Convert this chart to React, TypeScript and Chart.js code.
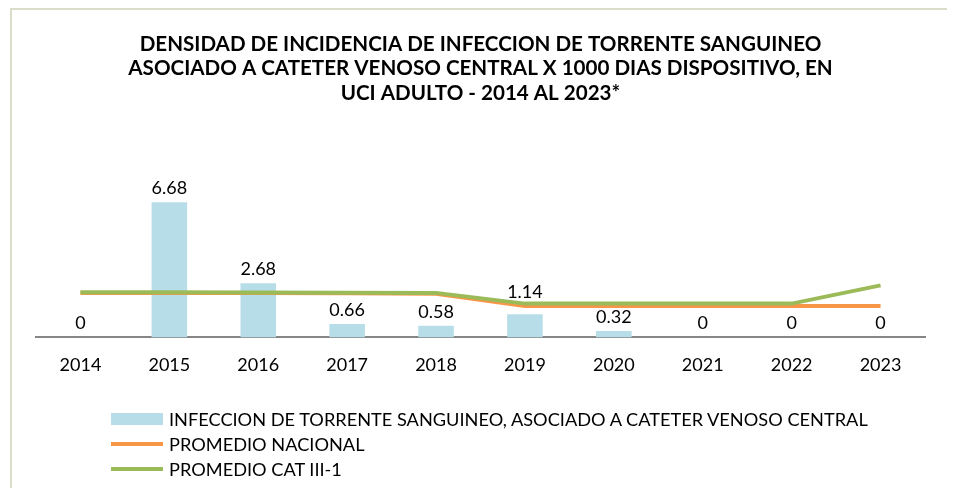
import React, { useEffect, useRef } from "react";
import { Chart, registerables } from "chart.js";

Chart.register(...registerables);

const titleLines = [
  "DENSIDAD DE INCIDENCIA DE INFECCION DE TORRENTE SANGUINEO",
  "ASOCIADO A CATETER VENOSO CENTRAL X 1000 DIAS DISPOSITIVO, EN",
  "UCI ADULTO - 2014 AL 2023*",
];
const years = ["2014", "2015", "2016", "2017", "2018", "2019", "2020", "2021", "2022", "2023"];
const infeccion = [0, 6.68, 2.68, 0.66, 0.58, 1.14, 0.32, 0, 0, 0];
const promedioNacional = [2.19, 2.19, 2.19, 2.18, 2.16, 1.55, 1.55, 1.55, 1.55, 1.55];
const promedioCat = [2.23, 2.23, 2.22, 2.21, 2.2, 1.67, 1.67, 1.67, 1.67, 2.57];
const seriesLabels = [
  "INFECCION DE TORRENTE SANGUINEO, ASOCIADO A CATETER VENOSO CENTRAL",
  "PROMEDIO NACIONAL",
  "PROMEDIO CAT III-1",
];
const seriesColors = ["#b7dde8", "#f79646", "#9bbb59"];

const FONT = "Lato, 'Open Sans', sans-serif";

const dataLabelPlugin = {
  id: "dataLabels",
  afterDatasetsDraw(chart: any) {
    const meta = chart.getDatasetMeta(0);
    const lineMetas = [chart.getDatasetMeta(1), chart.getDatasetMeta(2)];
    const ctx = chart.ctx;
    const fontSize = 18;
    const glyphHeight = 13;
    ctx.save();
    ctx.font = `${fontSize}px ${FONT}`;
    ctx.fillStyle = "#000";
    ctx.textAlign = "center";
    ctx.textBaseline = "alphabetic";
    meta.data.forEach((bar: any, i: number) => {
      const v = infeccion[i];
      let base = bar.y - 8;
      // keep label clear of the average lines
      for (let pass = 0; pass < 2; pass++) {
        lineMetas.forEach((lm: any) => {
          const p = lm.data[i];
          if (!p) return;
          const top = base - glyphHeight;
          if (p.y + 2 >= top && p.y - 2 <= base) {
            base = Math.min(base, p.y - 8);
          }
        });
      }
      ctx.fillText(String(v), bar.x, base);
    });
    ctx.restore();
  },
};

export default function App() {
  const ref = useRef<HTMLCanvasElement>(null);
  useEffect(() => {
    if (!ref.current) return;
    const chart = new Chart(ref.current, {
      type: "bar",
      data: {
        labels: years,
        datasets: [
          {
            type: "bar",
            label: seriesLabels[0],
            data: infeccion,
            backgroundColor: seriesColors[0],
            barPercentage: 0.4,
            categoryPercentage: 1,
            order: 3,
          },
          {
            type: "line",
            label: seriesLabels[1],
            data: promedioNacional,
            borderColor: seriesColors[1],
            backgroundColor: seriesColors[1],
            borderWidth: 4,
            pointRadius: 0,
            tension: 0,
            order: 2,
          },
          {
            type: "line",
            label: seriesLabels[2],
            data: promedioCat,
            borderColor: seriesColors[2],
            backgroundColor: seriesColors[2],
            borderWidth: 4,
            pointRadius: 0,
            tension: 0,
            order: 1,
          },
        ] as any,
      },
      options: {
        animation: false,
        responsive: false,
        maintainAspectRatio: false,
        layout: { padding: { left: 24, right: 26, top: 0, bottom: 95 } },
        plugins: {
          legend: { display: false },
          tooltip: { enabled: false },
          title: {
            display: true,
            text: titleLines,
            color: "#000",
            font: { family: FONT, size: 20.6, weight: "bold", lineHeight: 1.19 },
            padding: { top: 22, bottom: 70 },
          },
        },
        scales: {
          x: {
            offset: true,
            grid: { display: false, drawTicks: false },
            border: { display: true, color: "#868686", width: 2 },
            ticks: { color: "#000", font: { family: FONT, size: 18 }, padding: 17 },
          },
          y: {
            display: false,
            min: 0,
            max: 8,
          },
        },
      },
      plugins: [dataLabelPlugin],
    });
    return () => chart.destroy();
  }, []);

  return (
    <div
      style={{
        position: "relative",
        width: 943,
        height: 482,
        marginLeft: 2,
        border: "2px solid #dcdccb",
        background: "#fff",
      }}
    >
      <canvas ref={ref} width={939} height={478} style={{ position: "absolute", left: 0, top: 0 }} />
      <div style={{ position: "absolute", left: 99, top: 396, fontFamily: FONT, fontSize: 18.2, color: "#000" }}>
        {seriesLabels.map((lab, i) => (
          <div key={lab} style={{ display: "flex", alignItems: "center", height: 25, whiteSpace: "nowrap" }}>
            <span
              style={{
                display: "inline-block",
                width: 52,
                height: i === 0 ? 12 : 4,
                background: seriesColors[i],
                marginRight: 6,
              }}
            />
            <span>{lab}</span>
          </div>
        ))}
      </div>
    </div>
  );
}
